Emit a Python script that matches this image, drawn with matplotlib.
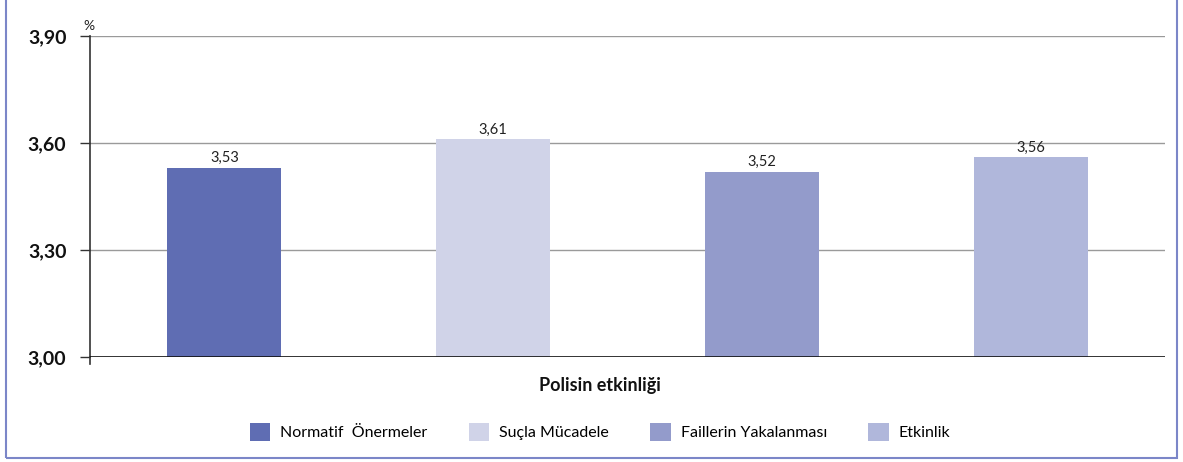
import matplotlib
matplotlib.use("Agg")
import matplotlib.pyplot as plt
from matplotlib.patches import Rectangle, Patch
from matplotlib.lines import Line2D

categories = ["Normatif  Önermeler", "Suçla Mücadele", "Faillerin Yakalanması", "Etkinlik"]
values = [3.53, 3.61, 3.52, 3.56]
value_labels = ["3,53", "3,61", "3,52", "3,56"]
yticks = [3.00, 3.30, 3.60, 3.90]
ytick_labels = ["3,00", "3,30", "3,60", "3,90"]
colors = ["#5f6db3", "#d0d3e8", "#939bcb", "#b0b7db"]
xlabel = "Polisin etkinliği"

plt.rcParams['font.family'] = ['Lato', 'DejaVu Sans']

fig = plt.figure(figsize=(11.83, 4.62), dpi=100)
ax = fig.add_axes([90/1183, 1-357/462, (1165-90)/1183, (357-36)/462])

x = list(range(len(categories)))
ax.bar(x, [v - 3.0 for v in values], bottom=3.0, width=0.424, color=colors, zorder=3)
for xi, v, lab in zip(x, values, value_labels):
    ax.text(xi, v + 0.008, lab, ha="center", va="bottom", fontsize=10.5, color="#222222")

ax.set_xlim(-0.5, len(categories) - 0.5)
ax.set_ylim(3.0, 3.9)
ax.set_yticks(yticks)
ax.set_yticklabels(ytick_labels, fontsize=14, fontweight="bold", color="#111111")
ax.set_xticks([])
ax.tick_params(axis="y", length=7, width=1, color="#333333", pad=10)
for t in yticks[1:]:
    ax.axhline(t, color="#9a9a9a", lw=1, zorder=1)
ax.axhline(3.0, color="#111111", lw=1.2, zorder=4)

for s in ["top", "right", "bottom"]:
    ax.spines[s].set_visible(False)
ax.spines["left"].set_color("#333333")
ax.spines["left"].set_linewidth(1.2)
ax.add_line(Line2D([0, 0], [-7/321, 0], transform=ax.transAxes, color="#333333", lw=1.2, clip_on=False))

ax.text(-7/1075, 1.012, "%", transform=ax.transAxes, fontsize=10, ha="left", va="bottom", color="#222222")

fig.text(600/1183, 1-386/462, xlabel, ha="center", va="center", fontsize=13, fontweight="bold", color="#111111")

handles = [Patch(facecolor=c, edgecolor="none") for c in colors]
fig.legend(handles, categories, loc="center", bbox_to_anchor=(600/1183, 1-432/462), ncol=4,
           frameon=False, fontsize=11.5, handlelength=1.3, handleheight=1.3, columnspacing=2.6,
           handletextpad=0.6)

fig.patches.append(Rectangle((6/1183, 1-458/462), (1177-6)/1183, 462/462, transform=fig.transFigure,
                             fill=False, edgecolor="#7b86c8", lw=1.5))

fig.savefig("out.png", dpi=100)
